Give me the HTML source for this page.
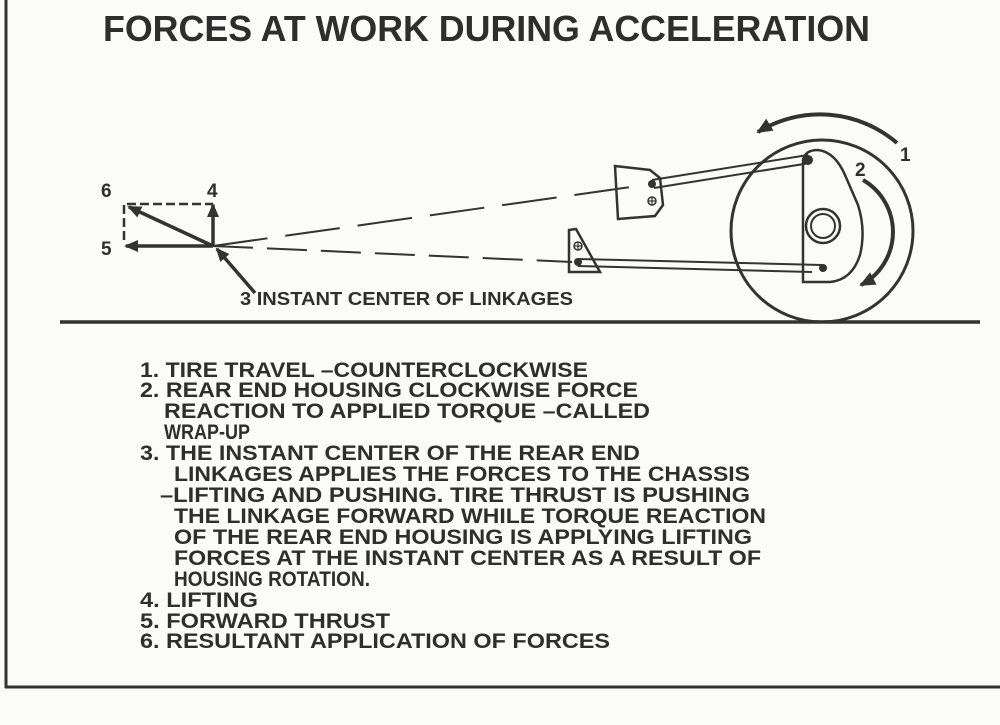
<!DOCTYPE html>
<html><head><meta charset="utf-8"><style>
html,body{margin:0;padding:0;background:#fbfbf9;}
svg{display:block;}
text{font-family:"Liberation Sans",sans-serif;font-weight:bold;fill:#2e2e2e;}
</style></head><body>
<svg width="1000" height="725" viewBox="0 0 1000 725" xmlns="http://www.w3.org/2000/svg">
<defs>
<marker id="ah" markerWidth="16" markerHeight="14" refX="14" refY="7" orient="auto" markerUnits="userSpaceOnUse">
<path d="M0,0 L16,7 L0,14 z" fill="#333"/></marker>
<marker id="ah2" markerWidth="14" markerHeight="12" refX="12" refY="6" orient="auto" markerUnits="userSpaceOnUse">
<path d="M0,0 L14,6 L0,12 z" fill="#333"/></marker>
</defs>
<line x1="6" y1="0" x2="6" y2="688" stroke="#333" stroke-width="3"/>
<line x1="5" y1="687" x2="1000" y2="687" stroke="#333" stroke-width="3"/>
<text x="103" y="41" font-size="36" textLength="767" lengthAdjust="spacingAndGlyphs">FORCES AT WORK DURING ACCELERATION</text>
<line x1="60" y1="322" x2="980" y2="322" stroke="#333" stroke-width="3.5"/>
<circle cx="822" cy="231" r="91" fill="none" stroke="#333" stroke-width="3"/>
<path d="M897,143 A118,118 0 0 0 758,132" fill="none" stroke="#333" stroke-width="4" marker-end="url(#ah)"/>
<path d="M863,180 A60,60 0 0 1 861,285" fill="none" stroke="#333" stroke-width="4" marker-end="url(#ah)"/>
<path d="M803,160 Q805,150 818,150 Q835,152 845,175 L858,205 Q866,230 860,255 Q852,280 830,282 L803,282 Z" fill="#fbfbf9" stroke="#333" stroke-width="2.5"/>
<circle cx="823" cy="226" r="17" fill="none" stroke="#333" stroke-width="2.5"/>
<circle cx="823" cy="226" r="12" fill="none" stroke="#333" stroke-width="2"/>
<path d="M615,166 L650,170 L660,178 L663,205 L655,216 L618,219 Z" fill="#fbfbf9" stroke="#333" stroke-width="2.5"/>
<line x1="652" y1="180" x2="808" y2="155" stroke="#333" stroke-width="2"/>
<line x1="654" y1="188" x2="810" y2="163" stroke="#333" stroke-width="2"/>
<circle cx="652" cy="184" r="4" fill="#333"/>
<circle cx="808" cy="160" r="5" fill="#333"/>
<circle cx="652" cy="201" r="4" fill="none" stroke="#333" stroke-width="1.5"/>
<line x1="648" y1="201" x2="656" y2="201" stroke="#333" stroke-width="1.2"/><line x1="652" y1="197" x2="652" y2="205" stroke="#333" stroke-width="1.2"/>
<path d="M569,230 L576,229 L600,272 L569,272 Z" fill="#fbfbf9" stroke="#333" stroke-width="2.5"/>
<circle cx="578" cy="246" r="4" fill="none" stroke="#333" stroke-width="1.5"/>
<line x1="574" y1="246" x2="582" y2="246" stroke="#333" stroke-width="1.2"/><line x1="578" y1="242" x2="578" y2="250" stroke="#333" stroke-width="1.2"/>
<line x1="578" y1="259" x2="822" y2="265" stroke="#333" stroke-width="2"/>
<line x1="578" y1="266" x2="812" y2="272" stroke="#333" stroke-width="2"/>
<circle cx="578" cy="262" r="4" fill="#333"/>
<circle cx="823" cy="268" r="4" fill="#333"/>
<line x1="213" y1="246" x2="645" y2="185" stroke="#333" stroke-width="2" stroke-dasharray="55,18"/>
<line x1="213" y1="246" x2="572" y2="262" stroke="#333" stroke-width="2" stroke-dasharray="40,14"/>
<polyline points="124,240 124,204 213,204" fill="none" stroke="#333" stroke-width="2.5" stroke-dasharray="9,4"/>
<line x1="213" y1="246" x2="126" y2="246" stroke="#333" stroke-width="3.5" marker-end="url(#ah2)"/>
<line x1="213" y1="246" x2="213" y2="205" stroke="#333" stroke-width="3.5" marker-end="url(#ah2)"/>
<line x1="213" y1="246" x2="129" y2="207" stroke="#333" stroke-width="3.5" marker-end="url(#ah2)"/>
<line x1="255" y1="293" x2="217" y2="249" stroke="#333" stroke-width="3.5" marker-end="url(#ah2)"/>
<text x="101" y="197" font-size="19">6</text>
<text x="207" y="197" font-size="19">4</text>
<text x="101" y="255" font-size="19">5</text>
<text x="240" y="305" font-size="18" textLength="333" lengthAdjust="spacingAndGlyphs">3 INSTANT CENTER OF LINKAGES</text>
<text x="900" y="161" font-size="19">1</text>
<text x="855" y="176" font-size="19">2</text>
<g font-size="21">
<text x="140" y="377" textLength="448" lengthAdjust="spacingAndGlyphs">1. TIRE TRAVEL –COUNTERCLOCKWISE</text>
<text x="140" y="397" textLength="498" lengthAdjust="spacingAndGlyphs">2. REAR END HOUSING CLOCKWISE FORCE</text>
<text x="164" y="418" textLength="486" lengthAdjust="spacingAndGlyphs">REACTION TO APPLIED TORQUE –CALLED</text>
<text x="164" y="439" textLength="86" lengthAdjust="spacingAndGlyphs">WRAP-UP</text>
<text x="140" y="460" textLength="500" lengthAdjust="spacingAndGlyphs">3. THE INSTANT CENTER OF THE REAR END</text>
<text x="174" y="481" textLength="576" lengthAdjust="spacingAndGlyphs">LINKAGES APPLIES THE FORCES TO THE CHASSIS</text>
<text x="160" y="502" textLength="590" lengthAdjust="spacingAndGlyphs">–LIFTING AND PUSHING. TIRE THRUST IS PUSHING</text>
<text x="174" y="523" textLength="592" lengthAdjust="spacingAndGlyphs">THE LINKAGE FORWARD WHILE TORQUE REACTION</text>
<text x="174" y="544" textLength="578" lengthAdjust="spacingAndGlyphs">OF THE REAR END HOUSING IS APPLYING LIFTING</text>
<text x="174" y="565" textLength="587" lengthAdjust="spacingAndGlyphs">FORCES AT THE INSTANT CENTER AS A RESULT OF</text>
<text x="174" y="586" textLength="196" lengthAdjust="spacingAndGlyphs">HOUSING ROTATION.</text>
<text x="140" y="607" textLength="118" lengthAdjust="spacingAndGlyphs">4. LIFTING</text>
<text x="140" y="628" textLength="250" lengthAdjust="spacingAndGlyphs">5. FORWARD THRUST</text>
<text x="140" y="648" textLength="470" lengthAdjust="spacingAndGlyphs">6. RESULTANT APPLICATION OF FORCES</text>
</g>
</svg>
</body></html>
